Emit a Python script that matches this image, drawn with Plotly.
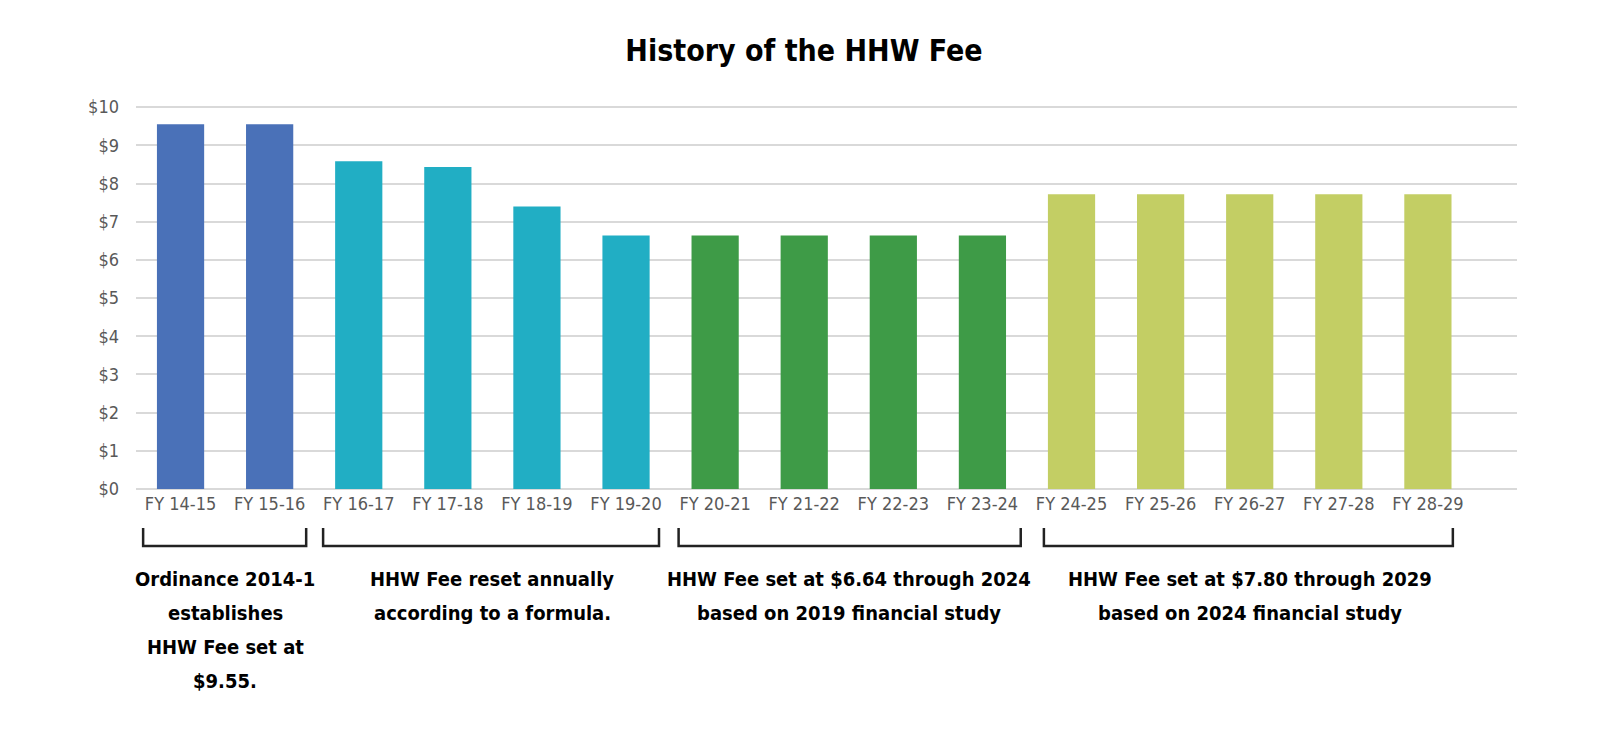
import plotly.graph_objects as go

# bar data
fiscal_years = ["FY 14-15", "FY 15-16", "FY 16-17", "FY 17-18", "FY 18-19",
                "FY 19-20", "FY 20-21", "FY 21-22", "FY 22-23", "FY 23-24",
                "FY 24-25", "FY 25-26", "FY 26-27", "FY 27-28", "FY 28-29"]
fees = [9.55, 9.55, 8.58, 8.43, 7.40, 6.64, 6.64, 6.64, 6.64, 6.64,
        7.72, 7.72, 7.72, 7.72, 7.72]
fee_period = ["ordinance", "ordinance", "formula", "formula", "formula",
              "formula", "study2019", "study2019", "study2019", "study2019",
              "study2024", "study2024", "study2024", "study2024", "study2024"]

# text under each bracket
period_names = ["ordinance", "formula", "study2019", "study2024"]
period_notes = ["Ordinance 2014-1<br>establishes<br>HHW Fee set at<br>$9.55.",
                "HHW Fee reset annually<br>according to a formula.",
                "HHW Fee set at $6.64 through 2024<br>based on 2019 financial study",
                "HHW Fee set at $7.80 through 2029<br>based on 2024 financial study"]

y_ticks = [0, 1, 2, 3, 4, 5, 6, 7, 8, 9, 10]
y_tick_labels = ["$0", "$1", "$2", "$3", "$4", "$5", "$6", "$7", "$8", "$9", "$10"]

period_colors = {"ordinance": "#4A71B8", "formula": "#21AEC4",
                 "study2019": "#3E9B47", "study2024": "#C3CE64"}

FONT = "DejaVu Sans Condensed, sans-serif"
X_MIN, X_MAX = -0.5, 15.0  # gridlines run a half slot past the last bar
PLOT_H = 382  # px height of the plot area, used to place the notes

fig = go.Figure(go.Bar(
    x=fiscal_years,
    y=fees,
    marker=dict(color=[period_colors[p] for p in fee_period], line=dict(width=0)),
    showlegend=False,
    hoverinfo="x+y",
))

def to_paper(c):
    # category index -> paper fraction
    return (c - X_MIN) / (X_MAX - X_MIN)

# hand drawn looking brackets under the axis
bracket_ends = [(-0.42, 1.41), (1.60, 5.37), (5.59, 9.43), (9.69, 14.28)]
tick_top, bracket_bottom = -0.102, -0.149
for left, right in bracket_ends:
    x0, x1 = to_paper(left), to_paper(right)
    fig.add_shape(type="path", xref="paper", yref="paper",
                  path=f"M {x0},{tick_top} L {x0},{bracket_bottom} L {x1},{bracket_bottom} L {x1},{tick_top}",
                  line=dict(color="#222222", width=2.5))

# one annotation per line so the line spacing can follow the original
first_line_px, line_step_px = 90, 33.7
for name, note in zip(period_names, period_notes):
    idx = [i for i, p in enumerate(fee_period) if p == name]
    mid = (idx[0] + idx[-1]) / 2
    for k, line in enumerate(note.split("<br>")):
        fig.add_annotation(x=to_paper(mid), xref="paper",
                           y=-(first_line_px + k * line_step_px) / PLOT_H, yref="paper",
                           text=line, showarrow=False, xanchor="center", yanchor="middle",
                           font=dict(family=FONT, size=20, color="#000000", weight="bold"))

# page body has an 8px margin, so the figure is 8px smaller each way
fig.update_layout(
    width=1592, height=721,
    margin=dict(l=128, r=83, t=98, b=240),
    paper_bgcolor="white", plot_bgcolor="white",
    bargap=0.47,
    title=dict(text="History of the HHW Fee", x=0.5, xref="container",
               y=1 - 42 / 721, yanchor="middle",
               font=dict(family=FONT, size=30, color="#000000", weight="bold")),
    font=dict(family=FONT),
)
fig.update_xaxes(range=[X_MIN, X_MAX], showgrid=False, showline=False, ticks="",
                 ticklen=0, tickfont=dict(size=18, color="#595959"), ticklabelstandoff=2)
fig.update_yaxes(range=[0, 10.03], tickvals=y_ticks, ticktext=y_tick_labels,
                 showgrid=True, gridcolor="#D9D9D9", gridwidth=2,
                 zeroline=True, zerolinecolor="#D9D9D9", zerolinewidth=2,
                 showline=False, ticks="", ticklen=0,
                 tickfont=dict(size=18, color="#595959"), ticklabelstandoff=16)

fig.write_html("out.html")
